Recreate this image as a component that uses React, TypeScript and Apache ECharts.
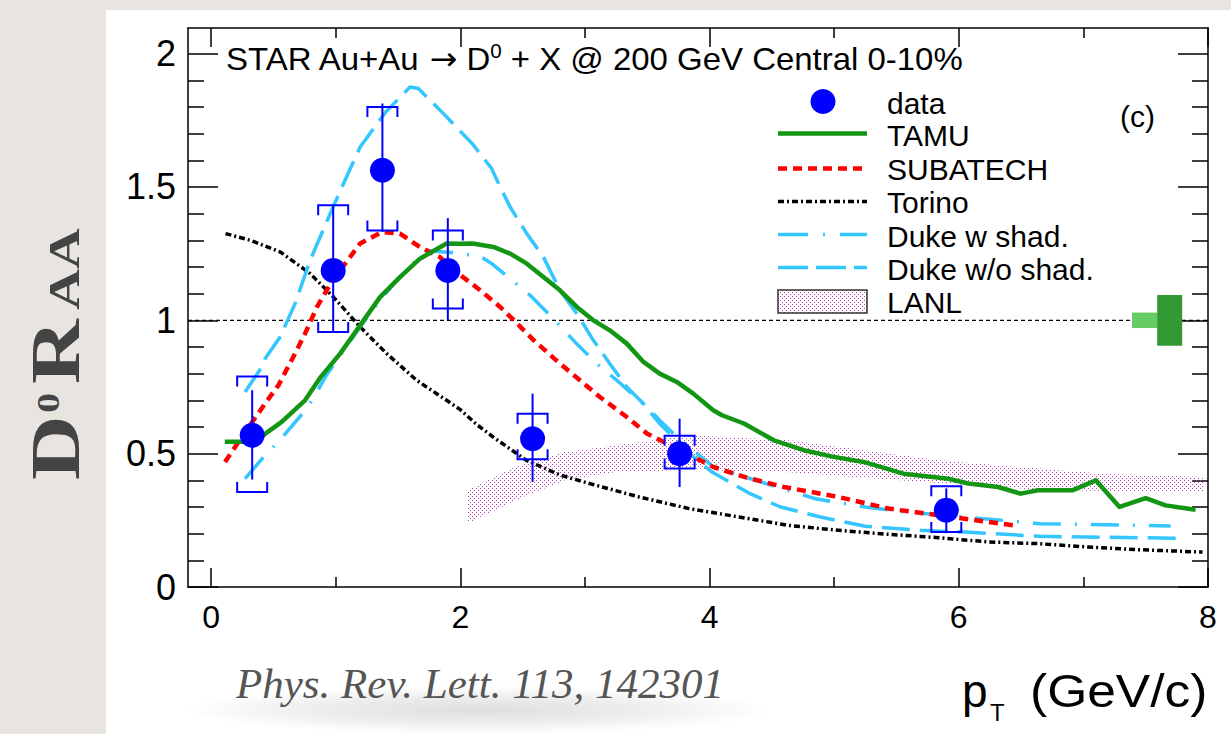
import React, { useEffect, useRef } from 'react';
import * as echarts from 'echarts';

const W = 1231;
const H = 734;

// axis ranges and ticks
const X_MIN = -0.185;
const X_MAX = 8;
const Y_MIN = 0;
const Y_MAX = 2.096;
const xMajorTicks = [0, 2, 4, 6, 8];
const xMinorTicks = [1, 3, 5, 7];
const yMajorTicks = [0, 0.5, 1, 1.5, 2];
const yMinorTicks = [0.1, 0.2, 0.3, 0.4, 0.6, 0.7, 0.8, 0.9, 1.1, 1.2, 1.3, 1.4, 1.6, 1.7, 1.8, 1.9];

// STAR data
const dataX = [0.33, 0.98, 1.375, 1.9, 2.58, 3.76, 5.9];
const dataY = [0.569, 1.187, 1.5625, 1.187, 0.556, 0.5, 0.288];
const statLow = [0.403, 0.958, 1.331, 1.0, 0.394, 0.375, 0.21];
const statHigh = [0.738, 1.428, 1.813, 1.383, 0.725, 0.631, 0.37];
const sysLow = [0.356, 0.956, 1.337, 1.044, 0.479, 0.444, 0.206];
const sysHigh = [0.789, 1.431, 1.8, 1.337, 0.65, 0.567, 0.378];

// TAMU
const tamuX = [0.11, 0.25, 0.36, 0.45, 0.567, 0.754, 0.876, 1.036, 1.196, 1.356, 1.516, 1.676, 1.89, 2.0, 2.1, 2.266, 2.4, 2.534, 2.667, 2.8, 2.935, 3.068, 3.2, 3.336, 3.47, 3.6, 3.737, 3.87, 4.03, 4.1, 4.276, 4.516, 4.756, 4.996, 5.236, 5.556, 5.916, 6.076, 6.316, 6.496, 6.636, 6.916, 7.1, 7.29, 7.5, 7.66, 7.9];
const tamuY = [0.545, 0.545, 0.546, 0.58, 0.619, 0.7, 0.785, 0.875, 0.981, 1.087, 1.162, 1.231, 1.288, 1.2875, 1.288, 1.275, 1.25, 1.2125, 1.1625, 1.1125, 1.05, 1.0, 0.9625, 0.9125, 0.844, 0.8, 0.769, 0.725, 0.6625, 0.644, 0.613, 0.55, 0.513, 0.488, 0.469, 0.425, 0.406, 0.388, 0.375, 0.35, 0.363, 0.363, 0.4, 0.3, 0.333, 0.306, 0.29];

// SUBATECH
const subX = [0.112, 0.193, 0.34, 0.433, 0.54, 0.66, 0.754, 0.85, 0.95, 1.036, 1.196, 1.37, 1.516, 1.676, 1.836, 2.0, 2.16, 2.32, 2.43, 2.59, 2.77, 2.96, 3.12, 3.336, 3.5, 3.66, 3.87, 4.03, 4.3, 4.596, 5.036, 5.436, 5.836, 6.44];
const subY = [0.469, 0.525, 0.625, 0.6875, 0.756, 0.8625, 0.95, 1.05, 1.13, 1.187, 1.288, 1.331, 1.325, 1.275, 1.237, 1.17, 1.1125, 1.05, 1.0, 0.925, 0.85, 0.775, 0.7125, 0.6375, 0.575, 0.5375, 0.4875, 0.45, 0.41, 0.375, 0.3375, 0.294, 0.269, 0.231];

// Torino
const torX = [0.116, 0.316, 0.556, 0.796, 0.982, 1.196, 1.41, 1.65, 1.89, 2.0, 2.13, 2.27, 2.53, 2.8, 3.036, 3.436, 3.836, 4.236, 4.636, 5.036, 5.436, 5.836, 6.236, 6.636, 7.036, 7.436, 7.956];
const torY = [1.325, 1.3, 1.256, 1.175, 1.087, 0.975, 0.875, 0.775, 0.7, 0.665, 0.61, 0.56, 0.475, 0.42, 0.388, 0.3375, 0.294, 0.2625, 0.231, 0.2125, 0.1976, 0.185, 0.169, 0.1626, 0.15, 0.14, 0.131];

// Duke with shadowing
const dukeWX = [0.273, 0.433, 0.527, 0.607, 0.768, 0.835, 0.916, 1.036, 1.196, 1.356, 1.49, 1.62, 1.76, 1.9, 2.0, 2.16, 2.26, 2.4, 2.56, 2.76, 2.92, 3.095, 3.256, 3.376, 3.497, 3.6, 3.71, 3.87, 4.03, 4.41, 4.85, 5.25, 5.57, 6.05, 6.65, 7.7];
const dukeWY = [0.406, 0.494, 0.5375, 0.581, 0.669, 0.719, 0.787, 0.869, 0.975, 1.075, 1.15, 1.213, 1.26, 1.255, 1.25, 1.24, 1.21, 1.156, 1.094, 1.0, 0.919, 0.8375, 0.775, 0.725, 0.675, 0.625, 0.575, 0.5125, 0.45, 0.394, 0.331, 0.3, 0.281, 0.2625, 0.2375, 0.229];

// Duke without shadowing
const dukeNX = [0.273, 0.407, 0.433, 0.554, 0.674, 0.795, 0.979, 1.196, 1.4, 1.597, 1.664, 1.84, 2.1, 2.25, 2.32, 2.4, 2.534, 2.667, 2.8, 2.935, 3.068, 3.2, 3.336, 3.47, 3.6, 3.737, 3.87, 4.02, 4.326, 4.57, 4.89, 5.25, 5.69, 6.05, 6.65, 7.78];
const dukeNY = [0.731, 0.825, 0.856, 0.9375, 1.0625, 1.225, 1.425, 1.65, 1.78, 1.875, 1.869, 1.787, 1.66, 1.57, 1.5, 1.425, 1.325, 1.2375, 1.1125, 1.025, 0.925, 0.8375, 0.75, 0.6875, 0.6125, 0.55, 0.4875, 0.431, 0.35, 0.3, 0.2625, 0.2275, 0.2125, 0.206, 0.19, 0.1825];

// LANL band
const lanlX = [2.056, 2.44, 2.84, 3.24, 3.84, 4.64, 5.24, 5.84, 6.64, 7.16, 7.96];
const lanlLow = [0.238, 0.325, 0.4, 0.43, 0.44, 0.43, 0.41, 0.39, 0.365, 0.36, 0.356];
const lanlHigh = [0.363, 0.45, 0.506, 0.531, 0.569, 0.55, 0.513, 0.475, 0.444, 0.425, 0.4125];

// normalisation uncertainty boxes around unity
const normX0 = [7.39, 7.592];
const normX1 = [7.592, 7.793];
const normErr = [0.029, 0.095];

const SANS = '"Liberation Sans", Arial, Helvetica, "DejaVu Sans", sans-serif';
const SERIF = '"Liberation Serif", "Times New Roman", "DejaVu Serif", serif';
const BLUE = '#0000ff';
const GREEN = '#139613';
const RED = '#ff0000';
const CYAN = '#33c6ff';
const NORM_COLORS = ['#66cc66', '#339933'];

const DASH_SUB = [9, 6];
const DASH_TOR = [6, 3, 2, 3];
const DASH_DW = [28, 14, 2, 14];
const DASH_DN = [28, 10];

function makeDots(): HTMLCanvasElement {
  const c = document.createElement('canvas');
  c.width = 4;
  c.height = 4;
  const ctx = c.getContext('2d')!;
  ctx.fillStyle = '#b838b8';
  ctx.fillRect(0, 0, 1, 1);
  ctx.fillRect(2, 2, 1, 1);
  return c;
}

export default function App() {
  const ref = useRef<HTMLDivElement>(null);

  useEffect(() => {
    document.body.style.margin = '0';
    const chart = echarts.init(ref.current!, undefined, { renderer: 'svg' });
    const dots: any = { image: makeDots(), repeat: 'repeat', imageWidth: 4, imageHeight: 4 };

    const axisLineStyle = { color: '#000', width: 1.5 };
    const xBase = { type: 'value', min: X_MIN, max: X_MAX, splitLine: { show: false }, minorTick: { show: false } };
    const yBase = { type: 'value', min: Y_MIN, max: Y_MAX, splitLine: { show: false }, minorTick: { show: false } };

    const xAxes = [
      {
        ...xBase, position: 'bottom',
        axisLine: { show: true, onZero: false, lineStyle: axisLineStyle },
        axisTick: { show: true, inside: true, length: 19, customValues: xMajorTicks, lineStyle: axisLineStyle },
        axisLabel: { show: true, customValues: xMajorTicks, margin: 14, fontSize: 32, fontFamily: SANS, color: '#000' },
      },
      {
        ...xBase, position: 'bottom',
        axisLine: { show: false, onZero: false },
        axisTick: { show: true, inside: true, length: 10, customValues: xMinorTicks, lineStyle: axisLineStyle },
        axisLabel: { show: false },
      },
      {
        ...xBase, position: 'top',
        axisLine: { show: true, onZero: false, lineStyle: axisLineStyle },
        axisTick: { show: true, inside: true, length: 19, customValues: xMajorTicks, lineStyle: axisLineStyle },
        axisLabel: { show: false },
      },
      {
        ...xBase, position: 'top',
        axisLine: { show: false, onZero: false },
        axisTick: { show: true, inside: true, length: 10, customValues: xMinorTicks, lineStyle: axisLineStyle },
        axisLabel: { show: false },
      },
    ];
    const yAxes = [
      {
        ...yBase, position: 'left',
        axisLine: { show: true, onZero: false, lineStyle: axisLineStyle },
        axisTick: { show: true, inside: true, length: 30, customValues: yMajorTicks, lineStyle: axisLineStyle },
        axisLabel: { show: true, customValues: yMajorTicks, margin: 12, fontSize: 36, fontFamily: SANS, color: '#000' },
      },
      {
        ...yBase, position: 'left',
        axisLine: { show: false, onZero: false },
        axisTick: { show: true, inside: true, length: 16, customValues: yMinorTicks, lineStyle: axisLineStyle },
        axisLabel: { show: false },
      },
      {
        ...yBase, position: 'right',
        axisLine: { show: true, onZero: false, lineStyle: axisLineStyle },
        axisTick: { show: true, inside: true, length: 30, customValues: yMajorTicks, lineStyle: axisLineStyle },
        axisLabel: { show: false },
      },
      {
        ...yBase, position: 'right',
        axisLine: { show: false, onZero: false },
        axisTick: { show: true, inside: true, length: 16, customValues: yMinorTicks, lineStyle: axisLineStyle },
        axisLabel: { show: false },
      },
    ];

    const pairs = (xs: number[], ys: number[]) => xs.map((x, i) => [x, ys[i]]);
    const lineSeries = (name: string, xs: number[], ys: number[], color: string, width: number, type: any, z: number) => ({
      type: 'line', name, data: pairs(xs, ys), showSymbol: false, symbol: 'none', silent: true, z,
      lineStyle: { color, width, type, cap: 'butt', join: 'round' },
    });

    const legendY = [103, 135.5, 169, 202.5, 236, 269.5, 302.5];
    const legendNames = ['data', 'TAMU', 'SUBATECH', 'Torino', 'Duke w shad.', 'Duke w/o shad.', 'LANL'];

    // y-axis title pieces laid out along the (rotated) baseline
    const yt = (text: string, u: number, size: number, raise: number) => ({
      type: 'text', x: u, y: -raise - 0.3375 * size, silent: true,
      style: { text, fontSize: size, fontFamily: SERIF, fontWeight: 'bold', fill: '#444', align: 'left', verticalAlign: 'middle' },
    });

    const option: any = {
      animation: false,
      backgroundColor: '#e8e5e1',
      grid: { left: 188, right: 23, top: 28, bottom: 147, containLabel: false, outerBoundsMode: 'none' },
      xAxis: xAxes,
      yAxis: yAxes,
      series: [
        {
          type: 'custom', name: 'LANL', z: 1, silent: true,
          data: [[lanlX[0], lanlLow[0]]],
          renderItem: (_p: any, api: any) => {
            const pts: number[][] = [];
            lanlX.forEach((x, i) => pts.push(api.coord([x, lanlHigh[i]])));
            for (let i = lanlX.length - 1; i >= 0; i--) pts.push(api.coord([lanlX[i], lanlLow[i]]));
            return { type: 'polygon', shape: { points: pts }, style: { fill: dots, stroke: null } };
          },
        },
        {
          type: 'line', name: 'unity', data: [[X_MIN, 1], [X_MAX, 1]], showSymbol: false, symbol: 'none', silent: true, z: 2,
          lineStyle: { color: '#000', width: 1.2, type: [4, 3] },
        },
        lineSeries('Torino', torX, torY, '#000', 3.5, DASH_TOR, 3),
        lineSeries('Duke w/o shad.', dukeNX, dukeNY, CYAN, 3.5, DASH_DN, 3),
        lineSeries('Duke w shad.', dukeWX, dukeWY, CYAN, 3.5, DASH_DW, 3),
        lineSeries('SUBATECH', subX, subY, RED, 4.5, DASH_SUB, 3),
        lineSeries('TAMU', tamuX, tamuY, GREEN, 4.5, 'solid', 3),
        {
          type: 'custom', name: 'norm', z: 4, silent: true,
          data: normX0.map((x0, i) => [x0, normX1[i], normErr[i], i]),
          renderItem: (_p: any, api: any) => {
            const x0 = api.value(0), x1 = api.value(1), e = api.value(2), k = api.value(3);
            const a = api.coord([x0, 1 + e]);
            const b = api.coord([x1, 1 - e]);
            return { type: 'rect', shape: { x: a[0], y: a[1], width: b[0] - a[0], height: b[1] - a[1] }, style: { fill: NORM_COLORS[k] } };
          },
        },
        {
          type: 'custom', name: 'errors', z: 5, silent: true,
          data: dataX.map((x, i) => [x, dataY[i], statLow[i], statHigh[i], sysLow[i], sysHigh[i]]),
          encode: { x: 0, y: 1 },
          renderItem: (_p: any, api: any) => {
            const x = api.value(0);
            const sl = api.coord([x, api.value(2)]);
            const sh = api.coord([x, api.value(3)]);
            const yl = api.coord([x, api.value(4)]);
            const yh = api.coord([x, api.value(5)]);
            const px = sl[0];
            const hw = 15, tk = 10;
            const st = { stroke: BLUE, lineWidth: 2, fill: null };
            return {
              type: 'group',
              children: [
                { type: 'line', shape: { x1: px, y1: sh[1], x2: px, y2: sl[1] }, style: st },
                { type: 'polyline', shape: { points: [[px - hw, yh[1] + tk], [px - hw, yh[1]], [px + hw, yh[1]], [px + hw, yh[1] + tk]] }, style: st },
                { type: 'polyline', shape: { points: [[px - hw, yl[1] - tk], [px - hw, yl[1]], [px + hw, yl[1]], [px + hw, yl[1] - tk]] }, style: st },
              ],
            };
          },
        },
        {
          type: 'scatter', name: 'data', z: 6, silent: true,
          data: pairs(dataX, dataY), symbol: 'circle', symbolSize: 25,
          itemStyle: { color: BLUE, opacity: 1 },
        },
      ],
      graphic: [
        { type: 'rect', z: -10, silent: true, shape: { x: 106, y: 10, width: W - 106, height: H - 10 }, style: { fill: '#ffffff' } },
        {
          type: 'ellipse', z: -9, silent: true, shape: { cx: 478, cy: 710, rx: 295, ry: 24 },
          style: {
            fill: {
              type: 'radial', x: 0.5, y: 0.5, r: 0.5,
              colorStops: [
                { offset: 0, color: 'rgba(0,0,0,0.13)' },
                { offset: 0.55, color: 'rgba(0,0,0,0.07)' },
                { offset: 1, color: 'rgba(0,0,0,0)' },
              ],
            },
          },
        },
        {
          type: 'group', z: 10, x: 79, y: 480, rotation: Math.PI / 2, scaleX: 1.28, silent: true,
          children: [
            yt('D', 0, 70, 0),
            yt('0', 52.5, 31, 20),
            yt('R', 75, 70, 0),
            yt('AA', 133, 44, 0),
          ],
        },
        {
          type: 'text', z: 10, x: 226, y: 59, scaleX: 1.03, silent: true,
          style: {
            text: '{n|STAR Au+Au }{ar|\u2192}{n| D}{s|0}{n| + X @ 200 GeV Central 0-10%}', align: 'left', verticalAlign: 'middle',
            rich: {
              n: { fontSize: 32, fontFamily: SANS, fill: '#000', lineHeight: 36 },
              ar: { fontSize: 32, fontFamily: '"DejaVu Sans", sans-serif', fill: '#000', lineHeight: 36 },
              s: { fontSize: 20, fontFamily: SANS, fill: '#000', lineHeight: 22, verticalAlign: 'top' },
            },
          },
        },
        { type: 'text', z: 10, x: 1120, y: 116, silent: true, style: { text: '(c)', fontSize: 30, fontFamily: SANS, fill: '#000', align: 'left', verticalAlign: 'middle' } },
        // legend samples
        { type: 'circle', z: 10, silent: true, shape: { cx: 823, cy: 101.5, r: 12.5 }, style: { fill: BLUE } },
        { type: 'line', z: 10, silent: true, shape: { x1: 778, y1: 133.5, x2: 867, y2: 133.5 }, style: { stroke: GREEN, lineWidth: 4.5 } },
        { type: 'line', z: 10, silent: true, shape: { x1: 778, y1: 168.5, x2: 867, y2: 168.5 }, style: { stroke: RED, lineWidth: 4.5, lineDash: DASH_SUB } },
        { type: 'line', z: 10, silent: true, shape: { x1: 778, y1: 201.5, x2: 867, y2: 201.5 }, style: { stroke: '#000', lineWidth: 3.5, lineDash: DASH_TOR } },
        { type: 'line', z: 10, silent: true, shape: { x1: 778, y1: 234.5, x2: 867, y2: 234.5 }, style: { stroke: CYAN, lineWidth: 3.5, lineDash: [30, 15, 2, 15] } },
        { type: 'line', z: 10, silent: true, shape: { x1: 778, y1: 267.5, x2: 867, y2: 267.5 }, style: { stroke: CYAN, lineWidth: 3.5, lineDash: [30, 8] } },
        { type: 'rect', z: 10, silent: true, shape: { x: 778, y: 290, width: 89, height: 23 }, style: { fill: dots, stroke: '#333', lineWidth: 1.5 } },
        ...legendNames.map((t, i) => ({
          type: 'text', z: 10, x: 887, y: legendY[i], silent: true,
          style: { text: t, fontSize: 30, fontFamily: SANS, fill: '#000', align: 'left', verticalAlign: 'middle' },
        })),
        // x-axis title
        { type: 'text', z: 10, x: 962, y: 691, silent: true, style: { text: 'p', fontSize: 46, fontFamily: SANS, fill: '#000', align: 'left', verticalAlign: 'middle' } },
        { type: 'text', z: 10, x: 990, y: 712, silent: true, style: { text: 'T', fontSize: 24, fontFamily: SANS, fill: '#000', align: 'left', verticalAlign: 'middle' } },
        { type: 'text', z: 10, x: 1030, y: 691, scaleX: 1.12, silent: true, style: { text: '(GeV/c)', fontSize: 46, fontFamily: SANS, fill: '#000', align: 'left', verticalAlign: 'middle' } },
        // reference
        {
          type: 'text', z: 10, x: 236, y: 683, silent: true,
          style: { text: 'Phys. Rev. Lett. 113, 142301', fontSize: 43, fontFamily: SERIF, fontStyle: 'italic', fill: '#555', align: 'left', verticalAlign: 'middle' },
        },
      ],
    };

    chart.setOption(option);
    return () => {
      chart.dispose();
    };
  }, []);

  return <div ref={ref} style={{ position: 'fixed', left: 0, top: 0, width: W, height: H }} />;
}
